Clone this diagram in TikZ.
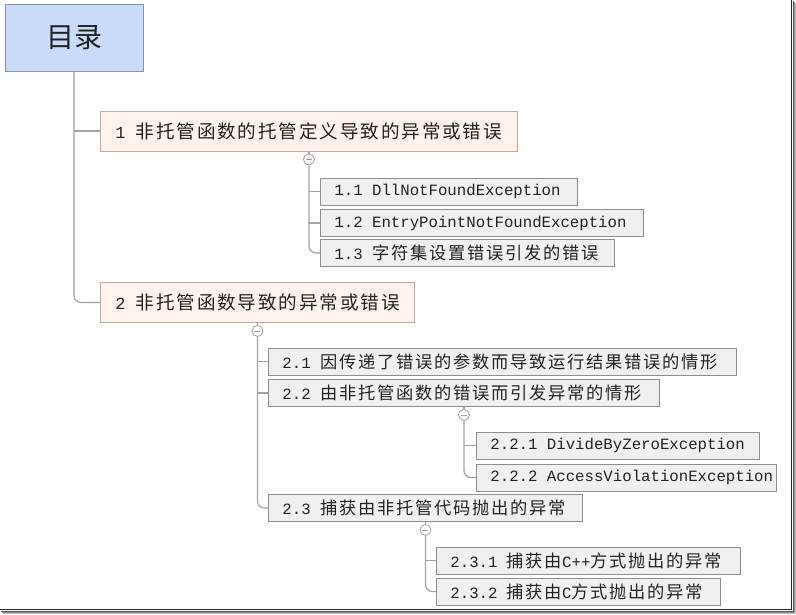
\documentclass[tikz,border=0pt]{standalone}
\usepackage{fontspec}
\usetikzlibrary{backgrounds}
\setmainfont{Liberation Mono}
\newfontfamily\cjk{Noto Sans CJK SC}[Scale=1.1, LetterSpace=10]
\newfontfamily\cjktitle{Noto Sans CJK SC}
\definecolor{rootfill}{HTML}{C9DBF8}
\definecolor{rootborder}{HTML}{7F93B5}
\definecolor{headfill}{HTML}{FDF3EA}
\definecolor{headborder}{HTML}{BBAE9F}
\definecolor{subfill}{HTML}{F0F0F0}
\definecolor{subborder}{HTML}{8E8E8E}
\definecolor{conncol}{HTML}{A3A3A3}
\definecolor{togborder}{HTML}{9AA0A8}
\definecolor{txt}{HTML}{222222}
\begin{document}
\begin{tikzpicture}[x=1pt,y=-1pt,
  root/.style={draw=rootborder, fill=rootfill, line width=1pt, minimum width=138pt, minimum height=67pt, inner sep=0pt, font=\cjktitle\fontsize{28}{32}\selectfont, text=txt},
  head/.style={draw=headborder, fill=headfill, line width=0.9pt, anchor=west, minimum height=40pt, inner xsep=15pt, inner ysep=0pt, font=\fontsize{16.9}{20}\selectfont, text=txt},
  sub/.style={draw=subborder, fill=subfill, line width=0.9pt, anchor=west, minimum height=27pt, inner xsep=14pt, inner ysep=0pt, font=\fontsize{15.7}{19}\selectfont, text=txt},
  tog/.style={circle, draw=togborder, fill=white, line width=0.8pt, minimum size=11pt, inner sep=0pt,
    path picture={\draw[togborder, line width=0.8pt] ([xshift=-3pt]path picture bounding box.center) -- ([xshift=3pt]path picture bounding box.center);}},
  conn/.style={draw=conncol, line width=1.2pt, rounded corners=7pt}
]
\useasboundingbox (0,0) rectangle (796,614);

% nodes
\node[root] (root) at (74,37.5) {目录};
\node[head] (h1) at (100,131) {\makebox[387pt][l]{1 {\cjk 非托管函数的托管定义导致的异常或错误}}};
\node[head] (h2) at (100,302.5) {\makebox[284pt][l]{2 {\cjk 非托管函数导致的异常或错误}}};

\node[sub] (n11) at (320,191.5) {\makebox[229pt][l]{1.1 DllNotFoundException}};
\node[sub] (n12) at (320,223) {\makebox[295pt][l]{1.2 EntryPointNotFoundException}};
\node[sub] (n13) at (320,253) {\makebox[266pt][l]{1.3 {\cjk 字符集设置错误引发的错误}}};

\node[sub] (n21) at (268,361.5) {\makebox[440pt][l]{2.1 {\cjk 因传递了错误的参数而导致运行结果错误的情形}}};
\node[sub] (n22) at (268,393) {\makebox[363pt][l]{2.2 {\cjk 由非托管函数的错误而引发异常的情形}}};
\node[sub] (n221) at (476,445.5) {\makebox[255pt][l]{2.2.1 DivideByZeroException}};
\node[sub] (n222) at (476,477.5) {\makebox[272pt][l]{2.2.2 AccessViolationException}};
\node[sub] (n23) at (268,508) {\makebox[286pt][l]{2.3 {\cjk 捕获由非托管代码抛出的异常}}};
\node[sub] (n231) at (436,560.5) {\makebox[276pt][l]{2.3.1 {\cjk 捕获由}C++{\cjk 方式抛出的异常}}};
\node[sub] (n232) at (436,591.5) {\makebox[256pt][l]{2.3.2 {\cjk 捕获由}C{\cjk 方式抛出的异常}}};

% toggles
\node[tog] (c1) at ([yshift=-8pt]h1.south) {};
\node[tog] (c2) at ([yshift=-8pt]h2.south) {};
\node[tog] (c22) at ([yshift=-8pt]n22.south) {};
\node[tog] (c23) at ([yshift=-8pt]n23.south) {};

% connectors
\begin{scope}[on background layer]
\draw[conn] (root.south) |- (h2.west);
\draw[conn] (root.south |- h1.west) -- (h1.west);

\draw[conn] (h1.south) -- (c1.north);
\draw[conn] (c1.south) |- (n13.west);
\draw[conn] (c1.south |- n11.west) -- (n11.west);
\draw[conn] (c1.south |- n12.west) -- (n12.west);

\draw[conn] (h2.south) -- (c2.north);
\draw[conn] (c2.south) |- (n23.west);
\draw[conn] (c2.south |- n21.west) -- (n21.west);
\draw[conn] (c2.south |- n22.west) -- (n22.west);

\draw[conn] (n22.south) -- (c22.north);
\draw[conn] (c22.south) |- (n222.west);
\draw[conn] (c22.south |- n221.west) -- (n221.west);

\draw[conn] (n23.south) -- (c23.north);
\draw[conn] (c23.south) |- (n232.west);
\draw[conn] (c23.south |- n231.west) -- (n231.west);
\end{scope}

% frame with shadow
\draw[black!25, line width=1pt] (795,3) -- (795,613) -- (3,613);
\draw[black!45, line width=1pt] (794,2) -- (794,612) -- (2,612);
\draw[black!65, line width=1pt] (793,1) -- (793,611) -- (1,611);
\draw[black!85, line width=1.2pt] (791.5,0) -- (791.5,609.5) -- (0,609.5);
\end{tikzpicture}
\end{document}
